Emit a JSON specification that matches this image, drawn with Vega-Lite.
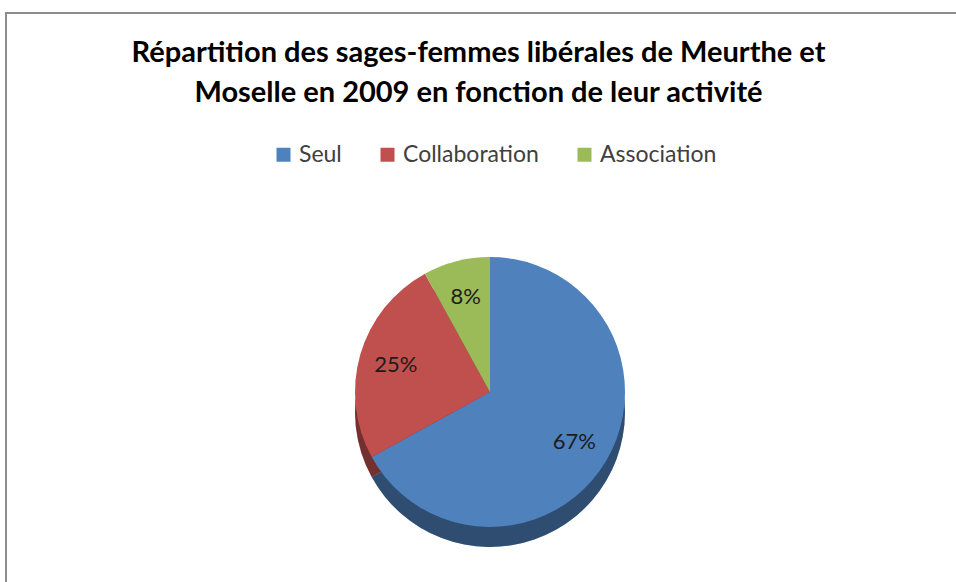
{
  "$schema": "https://vega.github.io/schema/vega-lite/v6.json",
  "width": 956,
  "height": 582,
  "autosize": {"type": "fit", "contains": "padding"},
  "padding": {"left": 5, "top": 12, "right": -6, "bottom": -6},
  "background": "white",
  "config": {"view": {"stroke": null}, "font": "Lato"},
  "title": {
    "text": ["Répartition des sages-femmes libérales de Meurthe et", "Moselle en 2009 en fonction de leur activité"],
    "font": "Lato",
    "fontSize": 29,
    "fontWeight": "bold",
    "color": "#000000",
    "anchor": "middle",
    "frame": "group",
    "lineHeight": 40,
    "offset": -96,
    "dx": -5
  },
  "data": {
    "values": [
      {"activite": "Seul", "part": 0.67, "ordre": 1},
      {"activite": "Collaboration", "part": 0.25, "ordre": 2},
      {"activite": "Association", "part": 0.08, "ordre": 3}
    ]
  },
  "layer": [
    {
      "mark": {"type": "rect", "fill": null, "stroke": "#8c8c8c", "strokeWidth": 2},
      "encoding": {}
    },
    {
      "mark": {"type": "arc", "radius": 135, "xOffset": 6.5, "yOffset": 112},
      "encoding": {
        "theta": {"field": "part", "type": "quantitative", "stack": true},
        "order": {"field": "ordre", "type": "quantitative"},
        "color": {"field": "activite", "type": "nominal", "sort": ["Seul", "Collaboration", "Association"]}
      }
    },
    {
      "mark": {"type": "arc", "radius": 135, "xOffset": 6.5, "yOffset": 112, "fill": "#000000", "opacity": 0.4},
      "encoding": {
        "theta": {"field": "part", "type": "quantitative", "stack": true},
        "order": {"field": "ordre", "type": "quantitative"}
      }
    },
    {
      "mark": {"type": "arc", "radius": 135, "xOffset": 6.5, "yOffset": 92},
      "encoding": {
        "theta": {"field": "part", "type": "quantitative", "stack": true},
        "order": {"field": "ordre", "type": "quantitative"},
        "color": {
          "field": "activite",
          "type": "nominal",
          "sort": ["Seul", "Collaboration", "Association"],
          "scale": {"domain": ["Seul", "Collaboration", "Association"], "range": ["#4f81bd", "#c0504d", "#9bbb59"]},
          "legend": {
            "orient": "none",
            "legendX": 266,
            "legendY": 130,
            "direction": "horizontal",
            "title": null,
            "symbolType": "square",
            "symbolSize": 196,
            "symbolStrokeWidth": 0,
            "labelFont": "Lato",
            "labelFontSize": 23,
            "labelColor": "#404040",
            "columnPadding": 34,
            "labelOffset": 4
          }
        }
      }
    },
    {
      "mark": {"type": "text", "radius": 98, "xOffset": 6.5, "yOffset": 92, "font": "Lato", "fontSize": 22, "fill": "#1c1c1c"},
      "encoding": {
        "theta": {"field": "part", "type": "quantitative", "stack": true},
        "order": {"field": "ordre", "type": "quantitative"},
        "text": {"field": "part", "type": "quantitative", "format": ".0%"}
      }
    }
  ]
}
